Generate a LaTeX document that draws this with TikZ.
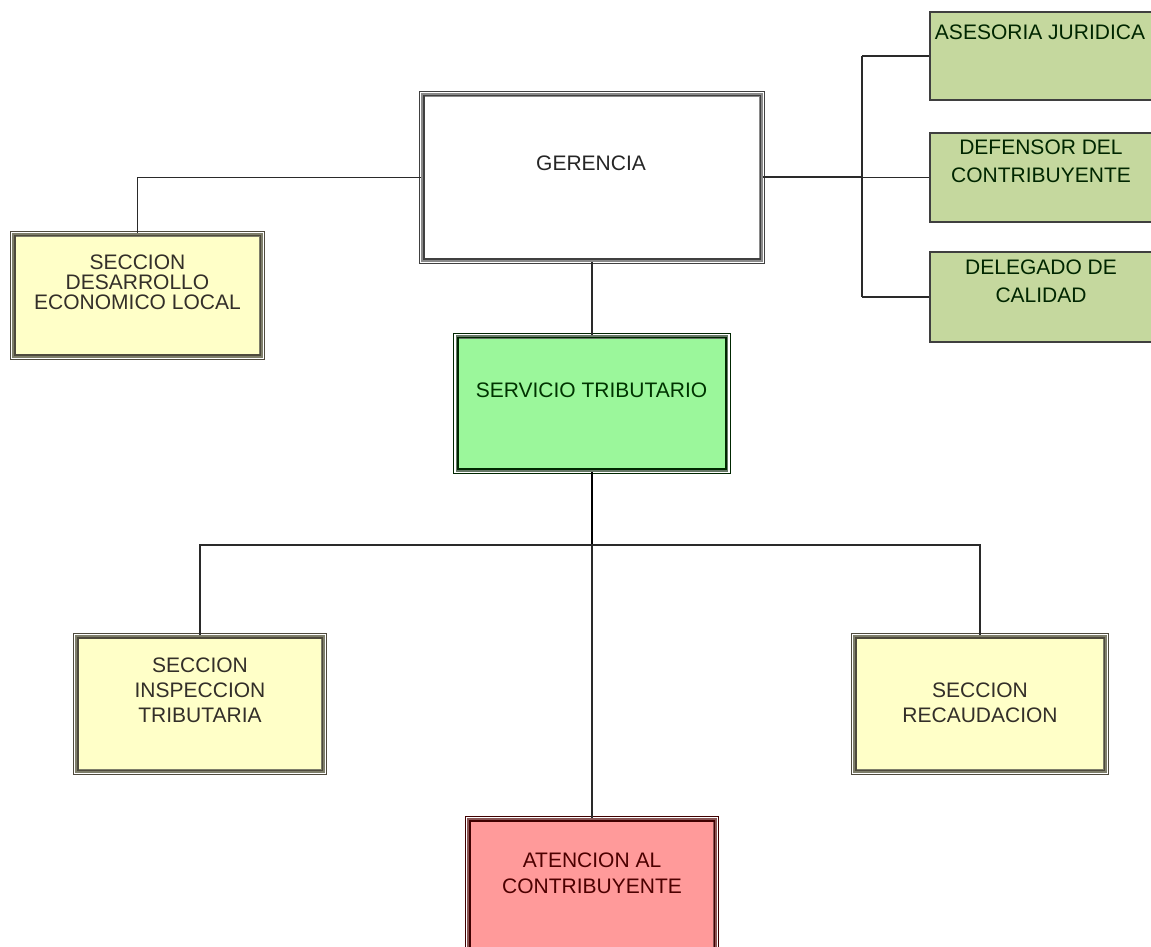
\documentclass[tikz,border=0pt]{standalone}
\usepackage{fontspec}
\setmainfont{Liberation Sans}
\definecolor{yelfill}{HTML}{FFFFC8}
\definecolor{grnfill}{HTML}{C5D89E}
\definecolor{srvfill}{HTML}{9BF79B}
\definecolor{redfill}{HTML}{FF9A9A}
\definecolor{linec}{HTML}{2A2A2A}
\definecolor{yelband}{HTML}{7E7E6A}
\definecolor{gerband}{HTML}{8A8A8A}
\definecolor{srvband}{HTML}{667866}
\definecolor{redband}{HTML}{8A5555}
\tikzset{
  x=1pt,y=1pt,
  fbox/.style={rectangle, line width=3.4, inner sep=0pt},
  gbox/.style={rectangle, draw=linec!90, line width=1.8, fill=grnfill, inner sep=0pt},
  lbl/.style={align=center, inner sep=0pt, font=\fontsize{21}{#1}\selectfont},
  lbl/.default=21,
  conn/.style={draw=linec, line width=1.5},
}
\newcommand\xframe[2]{%
  \draw[#2, line width=1] ([shift={(-2,2)}]#1.north west) rectangle ([shift={(2,-2)}]#1.south east);
  \draw[#2, line width=1.6] ([shift={(2.4,-2.4)}]#1.north west) rectangle ([shift={(-2.4,2.4)}]#1.south east);}
\begin{document}
\begin{tikzpicture}
\useasboundingbox (0,0) rectangle (1151,946);
\clip (0,0) rectangle (1151,946);
\fill[white] (0,0) rectangle (1151,946);

% boxes
\node[fbox, draw=gerband, fill=white, minimum width=338, minimum height=165] (ger) at (592,768.5) {};
\node[fbox, draw=yelband, fill=yelfill, minimum width=247, minimum height=121] (des) at (137.5,650.5) {};
\node[fbox, draw=srvband, fill=srvfill, minimum width=269, minimum height=133] (serv) at (592,542.5) {};
\node[fbox, draw=yelband, fill=yelfill, minimum width=246, minimum height=134] (insp) at (200,242) {};
\node[fbox, draw=yelband, fill=yelfill, minimum width=250, minimum height=134] (rec) at (980,242) {};
\node[fbox, draw=redband, fill=redfill, minimum width=246, minimum height=138] (aten) at (592,57) {};
\node[gbox, minimum width=222, minimum height=88] (ase) at (1041,890) {};
\node[gbox, minimum width=222, minimum height=89] (def) at (1041,768.5) {};
\node[gbox, minimum width=222, minimum height=90] (del) at (1041,649) {};

\xframe{ger}{black!75}
\xframe{des}{black!80!yellow}
\xframe{serv}{black!85!green}
\xframe{insp}{black!80!yellow}
\xframe{rec}{black!80!yellow}
\xframe{aten}{black!75!red}

% labels
\node[lbl, text=black!85] (tger) at (591,783) {GERENCIA};
\node[lbl=20, text=black!85!olive] (tdes) at (137.5,664) {SECCION\\DESARROLLO\\ECONOMICO LOCAL};
\node[lbl, text=black!80!green] (tserv) at (591.5,556) {SERVICIO TRIBUTARIO};
\node[lbl=25, text=black!85!olive] (tinsp) at (200,256) {SECCION\\INSPECCION\\TRIBUTARIA};
\node[lbl=25, text=black!85!olive] (trec) at (980,243.5) {SECCION\\RECAUDACION};
\node[lbl=26, text=black!70!red] (taten) at (592,73) {ATENCION AL\\CONTRIBUYENTE};
\node[lbl, text=black!85!green] (tase) at (1040,914) {ASESORIA JURIDICA};
\node[lbl=28, text=black!85!green] (tdef) at (1041,785) {DEFENSOR DEL\\CONTRIBUYENTE};
\node[lbl=28, text=black!85!green] (tdel) at (1041,665) {DELEGADO DE\\CALIDAD};

% connectors
\coordinate (j) at (592,401);
\coordinate (rb) at (862,768.5);
\draw[conn] (ger.west) -| (des.north);
\draw[conn] (ger.south) -- (serv.north);
\draw[conn, line width=2] (ger.east) -- (rb);
\draw[conn] (rb |- ase.west) -- (rb |- del.west);
\draw[conn] (rb |- ase.west) -- (ase.west);
\draw[conn] (rb |- def.west) -- (def.west);
\draw[conn] (rb |- del.west) -- (del.west);
\draw[conn, draw=black, line width=2.6] (serv.south) -- (j);
\draw[conn] (j) -| (insp.north);
\draw[conn] (j) -| (rec.north);
\draw[conn] (j) -- (aten.north);
\end{tikzpicture}
\end{document}
